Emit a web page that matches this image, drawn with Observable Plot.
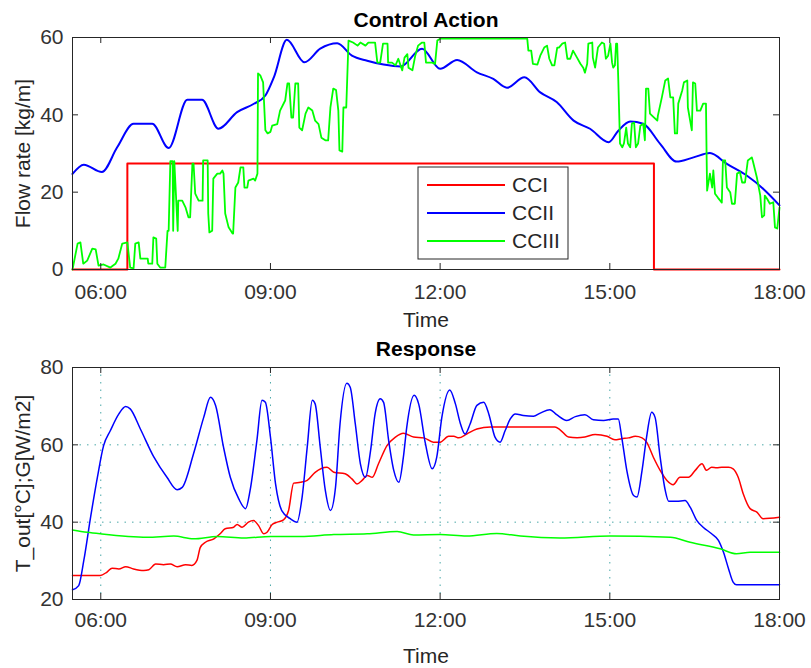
<!DOCTYPE html>
<html>
<head>
<meta charset="utf-8">
<script src="https://cdn.jsdelivr.net/npm/d3@7"></script>
<script src="https://cdn.jsdelivr.net/npm/@observablehq/plot@0.6"></script>
<style>
  body { margin: 0; background: #fff; }
  #chart { width: 811px; }
  #chart svg { display: block; }
</style>
</head>
<body>
<div id="chart"></div>
<script>
// Axis ticks (time of day in hours) and their labels
const xTicks = [6, 9, 12, 15, 18];
const xTickLabels = ["06:00", "09:00", "12:00", "15:00", "18:00"];
const flowTicks = [0, 20, 40, 60];
const responseTicks = [20, 40, 60, 80];

const seriesNames = ["CCI", "CCII", "CCIII"];
const seriesColors = ["#ff0000", "#0000ff", "#00ff00"];

// Control action: flow rate [kg/m] of each controller
const cciTime = [5.5, 6.47, 15.78, 18];
const cciFlow = [0, 27.4, 0, 0];

const cciiTime = [5.50, 5.70, 6.02, 6.29, 6.58, 6.91, 7.20, 7.53, 7.79, 8.08, 8.41, 8.70, 8.91, 9.06, 9.29,
  9.60, 9.88, 10.18, 10.44, 10.71, 11.00, 11.30, 11.68, 12.00, 12.30, 12.65, 12.94, 13.18, 13.49, 13.77,
  14.06, 14.36, 14.65, 14.98, 15.15, 15.36, 15.59, 15.89, 16.18, 16.48, 16.77, 17.07, 17.42, 17.71, 18.00];
const cciiFlow = [24.7, 27.1, 25.2, 31.6, 37.7, 37.7, 31.4, 43.9, 43.9, 36.4, 40.7, 42.8, 45, 49.7, 59.4,
  53.6, 57.1, 58.5, 55.3, 54, 53, 52.5, 57.1, 51.9, 54.2, 51, 49.3, 47, 49.7, 45.8,
  43.3, 38.5, 36.4, 32.9, 35.9, 38.3, 37.7, 32.5, 27.9, 29, 30.1, 27.3, 24.3, 20.9, 16.6];

const cciiiTime = [5.50, 5.59, 5.64, 5.69, 5.76, 5.85, 5.91, 5.96, 6.05, 6.17,
  6.26, 6.31, 6.38, 6.47, 6.52, 6.58, 6.61, 6.67, 6.70, 6.83,
  6.84, 6.91, 6.93, 6.98, 7.00, 7.05, 7.14, 7.18, 7.20, 7.23,
  7.27, 7.28, 7.30, 7.36, 7.37, 7.44, 7.50, 7.55, 7.58, 7.62,
  7.64, 7.67, 7.73, 7.80, 7.81, 7.89, 7.90, 7.92, 7.97, 7.99,
  8.06, 8.11, 8.15, 8.17, 8.20, 8.26, 8.33, 8.34, 8.38, 8.43,
  8.47, 8.52, 8.54, 8.59, 8.61, 8.70, 8.73, 8.77, 8.78, 8.82,
  8.87, 8.91, 8.95, 9.00, 9.03, 9.12, 9.17, 9.26, 9.30, 9.33,
  9.37, 9.40, 9.44, 9.49, 9.51, 9.56, 9.62, 9.67, 9.74, 9.79,
  9.85, 9.90, 9.97, 10.02, 10.06, 10.11, 10.16, 10.20, 10.22, 10.27,
  10.29, 10.34, 10.38, 10.46, 10.54, 10.59, 10.68, 10.73, 10.85, 10.89,
  10.94, 10.99, 11.07, 11.08, 11.15, 11.21, 11.26, 11.33, 11.37, 11.42,
  11.44, 11.51, 11.56, 11.61, 11.68, 11.72, 11.75, 11.86, 11.91, 11.95,
  12.00, 13.54, 13.56, 13.61, 13.64, 13.72, 13.77, 13.84, 13.89, 13.93,
  13.98, 14.02, 14.07, 14.10, 14.16, 14.21, 14.25, 14.30, 14.35, 14.42,
  14.48, 14.53, 14.56, 14.60, 14.62, 14.69, 14.70, 14.74, 14.79, 14.86,
  14.90, 14.93, 14.97, 15.01, 15.04, 15.06, 15.09, 15.11, 15.13, 15.15,
  15.18, 15.22, 15.25, 15.29, 15.32, 15.36, 15.39, 15.43, 15.46, 15.50,
  15.54, 15.59, 15.62, 15.64, 15.68, 15.71, 15.76, 15.84, 15.85, 15.92,
  15.98, 16.03, 16.07, 16.12, 16.15, 16.19, 16.21, 16.28, 16.31, 16.37,
  16.38, 16.45, 16.47, 16.51, 16.54, 16.60, 16.65, 16.70, 16.71, 16.72,
  16.77, 16.81, 16.83, 16.86, 16.91, 16.98, 17.00, 17.04, 17.07, 17.13,
  17.16, 17.21, 17.25, 17.30, 17.34, 17.39, 17.44, 17.51, 17.53, 17.60,
  17.66, 17.69, 17.73, 17.74, 17.78, 17.83, 17.89, 17.92, 17.96, 18.00];
const cciiiFlow = [0, 6.7, 7, 1.5, 2.3, 5.4, 5.2, 1, 1.3, 0.5,
  1.5, 2.8, 6.7, 7, 0.5, 0.3, 6.7, 7, 2.8, 2.8,
  1.5, 1.5, 8.3, 8, 1.5, 0.5, 0.5, 10, 10, 28,
  28, 10, 28, 10, 17.8, 17.8, 16, 13.5, 13.5, 27.4,
  27.4, 19.6, 17.8, 17.8, 28.2, 28.2, 14.5, 9.6, 10, 23.5,
  24.8, 24.8, 25.6, 24.8, 14.5, 10.9, 9.3, 9.3, 21.2, 22.5,
  26.4, 26.4, 21.2, 21.2, 23, 23.5, 23, 24.8, 50.7, 50.2,
  48.4, 36, 35.2, 35.6, 37.2, 37.6, 41.1, 43.7, 48.1, 48.1,
  39.3, 39.3, 48.1, 48.1, 36.7, 36, 40.3, 41.9, 41.1, 38.5,
  37.6, 34.1, 33.4, 33.4, 41.9, 46.8, 46.4, 41.1, 30.8, 30.5,
  41.9, 41.9, 59.2, 58.7, 57.9, 58.7, 57.9, 58.7, 58.7, 53.5,
  53.5, 58.4, 58.4, 53.5, 53.5, 52.8, 54.5, 51.5, 54.8, 55.7,
  52.2, 51.5, 55.3, 57.9, 58.7, 58.7, 53.5, 53.5, 53.2, 59.2,
  59.7, 59.7, 56.6, 56.6, 53.2, 53, 55.3, 57.4, 57.9, 54.5,
  52.8, 52.8, 57.4, 57.4, 58.4, 58.7, 54.5, 54.5, 56.6, 54.8,
  53.2, 52.2, 50.9, 53.2, 58.4, 58.7, 54.8, 52.2, 57.4, 58.7,
  58.4, 54.5, 55.3, 58.4, 53.5, 52.2, 52.8, 58.4, 58.4, 48.9,
  32.6, 31.6, 32.6, 36.7, 32.6, 31.6, 37.7, 38, 31.6, 32.6,
  37.2, 37.7, 33.4, 46.8, 46.8, 40.3, 39.6, 38.5, 39.8, 44.5,
  48.9, 49.4, 44.5, 44.5, 35.2, 35.2, 42.9, 46.3, 48.4, 48.9,
  41.9, 36, 48.4, 48.1, 41.1, 41.1, 42.9, 42.9, 30.8, 20.4,
  24.8, 21.2, 25.6, 19.6, 18.6, 17.3, 28.2, 28.2, 21.2, 19.9,
  17, 17, 24.8, 25.2, 22.5, 22.5, 28.2, 29, 28, 23.8,
  19.1, 13.5, 14, 19.1, 18.3, 17, 17.4, 10.9, 10.6, 16];

// Response: outlet temperature (red, blue) and irradiance (green)
const toutRedTime = [5.50, 5.99, 6.11, 6.20, 6.32, 6.44, 6.58, 6.76, 6.85, 6.97,
  7.11, 7.23, 7.35, 7.50, 7.61, 7.70, 7.76, 7.85, 8.00, 8.11,
  8.20, 8.35, 8.41, 8.50, 8.61, 8.70, 8.79, 8.88, 8.94, 9.03,
  9.12, 9.23, 9.32, 9.41, 9.53, 9.65, 9.79, 10.00, 10.12, 10.32,
  10.44, 10.53, 10.62, 10.71, 10.80, 10.91, 11.06, 11.21, 11.35, 11.53,
  11.71, 11.88, 12.00, 12.15, 12.24, 12.33, 12.47, 12.65, 12.89, 13.18,
  13.65, 14.03, 14.12, 14.27, 14.42, 14.56, 14.74, 14.95, 15.09, 15.21,
  15.33, 15.45, 15.57, 15.65, 15.77, 15.89, 16.01, 16.12, 16.24, 16.39,
  16.51, 16.63, 16.71, 16.80, 16.89, 16.98, 17.10, 17.18, 17.27, 17.36,
  17.48, 17.60, 17.71, 17.83, 18.00];
const toutRedValue = [26.2, 26.2, 27.1, 28.1, 27.9, 28.5, 27.9, 27.5, 27.7, 29.2,
  29, 29.2, 28.5, 29, 28.8, 30.1, 33.5, 34.8, 35.7, 37,
  38.3, 38.7, 39.4, 38.7, 40, 40.4, 39.1, 37, 37.4, 39.4,
  40, 40.6, 43, 50.1, 50.3, 50.8, 52.9, 54.2, 52.9, 52.5,
  51.2, 49.9, 50.8, 52.1, 51.6, 55.1, 59.8, 62, 63, 62,
  61.8, 60.7, 60.7, 62.2, 62.2, 61.8, 62.8, 64.1, 64.6, 64.6,
  64.6, 64.6, 63.9, 62, 61.8, 62, 62.7, 62.2, 61.3, 61.6,
  61.8, 62.2, 61.8, 60.7, 56.8, 53.4, 50.8, 49.7, 51.6, 51.6,
  53.4, 55.1, 53.4, 54.2, 54.1, 54.2, 54.2, 53.8, 51.6, 47.3,
  43.5, 42.6, 40.9, 41, 41.3];

const toutBlueTime = [5.50, 5.61, 5.70, 5.82, 5.94, 6.05, 6.17, 6.32, 6.44, 6.52,
  6.70, 6.94, 7.17, 7.35, 7.44, 7.64, 7.82, 7.94, 8.03, 8.17,
  8.29, 8.44, 8.56, 8.64, 8.76, 8.85, 8.91, 9.00, 9.09, 9.20,
  9.35, 9.47, 9.56, 9.65, 9.74, 9.79, 9.88, 9.97, 10.06, 10.15,
  10.23, 10.35, 10.41, 10.50, 10.59, 10.68, 10.77, 10.85, 10.94, 11.00,
  11.09, 11.18, 11.27, 11.35, 11.41, 11.54, 11.62, 11.74, 11.86, 11.94,
  12.03, 12.17, 12.27, 12.36, 12.44, 12.53, 12.65, 12.77, 12.86, 12.97,
  13.06, 13.15, 13.24, 13.33, 13.47, 13.65, 13.77, 13.94, 14.06, 14.24,
  14.39, 14.56, 14.71, 14.89, 15.06, 15.15, 15.21, 15.30, 15.42, 15.48,
  15.57, 15.65, 15.74, 15.80, 15.89, 15.98, 16.04, 16.18, 16.33, 16.42,
  16.54, 16.65, 16.80, 16.92, 17.01, 17.10, 17.18, 17.24, 18.00];
const toutBlueValue = [22.5, 23.6, 30.1, 41.3, 51.6, 59.8, 63.7, 68, 69.9, 69.3,
  64.1, 56.8, 51.6, 48.4, 49, 57.7, 67.1, 72.3, 70.2, 59.4,
  51.6, 46, 43.5, 48.2, 61.1, 71.5, 71, 62, 49.9, 43,
  40.9, 40, 46.5, 59.4, 71.5, 70.6, 59.4, 48.2, 43, 49,
  65.4, 75.9, 74.9, 65.4, 55.1, 51.6, 58.5, 68, 71.9, 71,
  61.1, 53.4, 50.3, 56.8, 64.6, 72.8, 70.6, 60.3, 53.8, 56.8,
  67.1, 74.2, 70.6, 65.4, 62.8, 65.4, 70.2, 71, 68, 62,
  60.7, 63.7, 66.7, 68, 67.6, 67.4, 68.2, 69.1, 67.8, 66.3,
  67.3, 67.8, 66.5, 66.3, 66.7, 66.7, 62, 53.4, 46.9, 46.5,
  53.4, 62, 68.4, 67.1, 56.8, 48.2, 45.4, 45.4, 45.6, 43.9,
  40.4, 38.7, 37, 35.3, 32.2, 27.9, 24.5, 23.8, 23.8];

const irradianceTime = [5.50, 5.76, 5.99, 6.82, 7.29, 7.64, 8.06, 8.53, 9.00, 9.53, 10.12, 10.71, 11.24,
  11.53, 12.00, 12.47, 13.00, 13.42, 14.12, 15.01, 16.07, 16.42, 16.95, 17.24, 17.48, 18.00];
const irradianceValue = [38, 37.4, 37, 36.1, 36.4, 35.7, 36.3, 35.9, 36.3, 36.3, 36.8, 37, 37.6,
  36.7, 36.8, 36.4, 37.1, 36.4, 35.9, 36.4, 36.1, 34.8, 33.1, 31.8, 32.2, 32.2];

// Build row tables for the line marks
const rows = (times, values) => times.map((t, i) => ({t, v: values[i]}));
const cciRows = rows(cciTime, cciFlow);
const cciiRows = rows(cciiTime, cciiFlow);
const cciiiRows = rows(cciiiTime, cciiiFlow);
const redRows = rows(toutRedTime, toutRedValue);
const blueRows = rows(toutBlueTime, toutBlueValue);
const greenRows = rows(irradianceTime, irradianceValue);

const FONT = "'Liberation Sans', Arial, Helvetica, sans-serif";
const FS = 21;
const AXIS = "#262626";
const W = 811, H = 334, ML = 72, MR = 32;
const FW = W - ML - MR;
const TICK = 6;
const xLabel = d => xTickLabels[xTicks.indexOf(d)];

// MATLAB-style boxed axes: inward ticks on all four sides
function boxMarks(yTicks, fh) {
  return [
    Plot.frame({stroke: AXIS, strokeWidth: 1}),
    Plot.tickX(xTicks, {x: d => d, stroke: AXIS, insetTop: fh - TICK}),
    Plot.tickX(xTicks, {x: d => d, stroke: AXIS, insetBottom: fh - TICK}),
    Plot.tickY(yTicks, {y: d => d, stroke: AXIS, insetRight: FW - TICK}),
    Plot.tickY(yTicks, {y: d => d, stroke: AXIS, insetLeft: FW - TICK})
  ];
}

function panel({title, yLabel, yDomain, yTicks, marginTop, marginBottom, xPad, titleDy, timeDy, lines, grid}) {
  const fh = H - marginTop - marginBottom;
  return Plot.plot({
    width: W, height: H,
    marginLeft: ML, marginRight: MR, marginTop, marginBottom,
    style: {fontFamily: FONT, fontSize: FS + "px", background: "#fff", color: AXIS},
    x: {domain: [5.5, 18]},
    y: {domain: yDomain},
    marks: [
      ...(grid ? [
        Plot.gridX(xTicks, {x: d => d, stroke: "#4aa8a8", strokeOpacity: 1, strokeDasharray: "1.5,6"}),
        Plot.gridY(yTicks, {y: d => d, stroke: "#4aa8a8", strokeOpacity: 1, strokeDasharray: "1.5,6"})
      ] : []),
      ...lines,
      ...boxMarks(yTicks, fh),
      Plot.axisX({ticks: xTicks, tickSize: 0, tickPadding: xPad, tickFormat: xLabel, label: null, fontSize: FS, color: "#333"}),
      Plot.axisY({ticks: yTicks, tickSize: 0, tickPadding: 9, label: null, fontSize: FS, color: "#333"}),
      Plot.text([title], {text: d => d, frameAnchor: "top", lineAnchor: "bottom", dy: titleDy, fontWeight: "bold", fontSize: FS, fill: "#000"}),
      Plot.text(["Time"], {text: d => d, frameAnchor: "bottom", lineAnchor: "bottom", dy: timeDy, fontSize: FS, fill: "#262626"}),
      Plot.text([yLabel], {text: d => d, frameAnchor: "left", textAnchor: "middle", rotate: -90, dx: -49, fontSize: FS, fill: "#262626"})
    ]
  });
}

const controlChart = panel({
  title: "Control Action",
  yLabel: "Flow rate [kg/m]",
  yDomain: [0, 60], yTicks: flowTicks,
  marginTop: 37, marginBottom: 65, xPad: 15, titleDy: -11, timeDy: 57,
  lines: [
    Plot.line(cciRows, {x: "t", y: "v", stroke: seriesColors[0], strokeWidth: 2, curve: "step-after"}),
    Plot.line(cciiRows, {x: "t", y: "v", stroke: seriesColors[1], strokeWidth: 2, curve: "monotone-x"}),
    Plot.line(cciiiRows, {x: "t", y: "v", stroke: seriesColors[2], strokeWidth: 1.8})
  ]
});

const responseChart = panel({
  title: "Response",
  yLabel: "T_out[°C];G[W/m2]",
  yDomain: [20, 80], yTicks: responseTicks,
  marginTop: 33, marginBottom: 69, xPad: 13, titleDy: -12, timeDy: 63, grid: true,
  lines: [
    Plot.line(redRows, {x: "t", y: "v", stroke: seriesColors[0], strokeWidth: 1.5, curve: "monotone-x"}),
    Plot.line(blueRows, {x: "t", y: "v", stroke: seriesColors[1], strokeWidth: 1.5, curve: "monotone-x"}),
    Plot.line(greenRows, {x: "t", y: "v", stroke: seriesColors[2], strokeWidth: 1.5, curve: "monotone-x"})
  ]
});

// Legend box for the control-action panel
const legend = d3.select(controlChart).append("g")
  .attr("transform", `translate(${ML + 346},${37 + 130})`)
  .attr("font-family", FONT).attr("font-size", FS).attr("text-anchor", "start");
legend.append("rect").attr("width", 150).attr("height", 92)
  .attr("fill", "#fff").attr("stroke", AXIS).attr("stroke-width", 1);
seriesNames.forEach((name, i) => {
  const y = 18 + i * 28;
  legend.append("line").attr("x1", 9).attr("x2", 87).attr("y1", y).attr("y2", y)
    .attr("stroke", seriesColors[i]).attr("stroke-width", 2);
  legend.append("text").attr("x", 94).attr("y", y).attr("dy", "0.35em")
    .attr("fill", "#262626").text(name);
});

document.getElementById("chart").append(controlChart, responseChart);
</script>
</body>
</html>
